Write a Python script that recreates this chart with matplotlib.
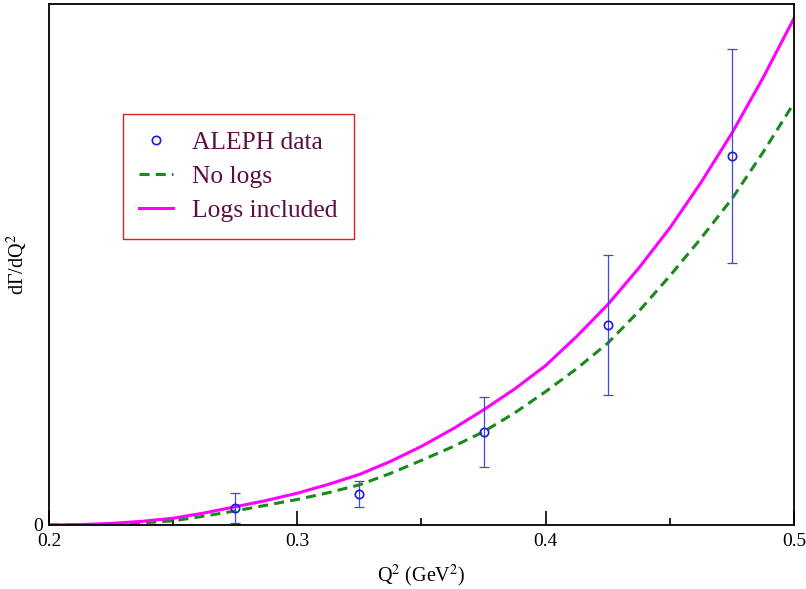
import numpy as np
import matplotlib.pyplot as plt

# ALEPH data points (arbitrary units)
q2_data = [0.275, 0.325, 0.375, 0.425, 0.475]
rate_data = [0.032, 0.0595, 0.178, 0.384, 0.708]
rate_err = [0.0285, 0.025, 0.0676, 0.135, 0.205]

# theory curves
q2_curve = [0.2, 0.2125, 0.225, 0.2375, 0.25, 0.2625, 0.275, 0.2875, 0.3, 0.3125,
            0.325, 0.3375, 0.35, 0.3625, 0.375, 0.3875, 0.4, 0.4125, 0.425, 0.4375,
            0.45, 0.4625, 0.475, 0.4875, 0.5]
no_logs = [0.0, 0.0003, 0.001, 0.004, 0.008, 0.017, 0.027, 0.038, 0.049, 0.062,
           0.077, 0.099, 0.124, 0.150, 0.179, 0.215, 0.256, 0.300, 0.349, 0.410,
           0.478, 0.550, 0.626, 0.715, 0.81]
logs_incl = [0.0, 0.0008, 0.003, 0.007, 0.013, 0.023, 0.035, 0.047, 0.061, 0.078,
             0.097, 0.122, 0.151, 0.184, 0.221, 0.261, 0.306, 0.362, 0.423, 0.493,
             0.570, 0.657, 0.752, 0.858, 0.9725]

plt.rcParams['font.family'] = ['Liberation Serif', 'DejaVu Serif']
plt.rcParams['mathtext.fontset'] = 'stix'

fig = plt.figure(figsize=(8.06, 5.89), dpi=100)
ax = fig.add_axes([0.0608, 0.1087, 0.9242, 0.8843])

ax.plot(q2_curve, no_logs, color='#1a8a1a', lw=2.2, ls=(0, (3.3, 2.0)), label='No logs')
ax.plot(q2_curve, logs_incl, color='#ff00ff', lw=2.2, label='Logs included')
ax.errorbar(q2_data, rate_data, yerr=rate_err, fmt='none', ecolor='#4545dd',
            elinewidth=0.9, capsize=3.5, capthick=0.9)
pts, = ax.plot(q2_data, rate_data, 'o', mfc='none', mec='#1a1ae6', mew=1.2, ms=6,
               label='ALEPH data')

ax.set_xlim(0.2, 0.5)
ax.set_ylim(0, 1.0)
ax.set_xticks([0.2, 0.3, 0.4, 0.5])
ax.set_xticklabels(['0.2', '0.3', '0.4', '0.5'])
ax.set_xticks([0.25, 0.35, 0.45], minor=True)
ax.tick_params(axis='x', which='major', direction='in', length=10, width=1.2,
               labelsize=14, pad=6)
ax.tick_params(axis='x', which='minor', direction='in', length=5, width=1.2)
ax.set_yticks([0])
ax.tick_params(axis='y', length=0, labelsize=14, pad=4)
for s in ax.spines.values():
    s.set_linewidth(1.3)

ax.set_xlabel('Q$^2$ (GeV$^2$)', fontsize=14.5, labelpad=9)
ax.set_ylabel('d\u0393/dQ$^2$', fontsize=14.5)
ax.yaxis.set_label_coords(-0.026, 0.5)

h, l = ax.get_legend_handles_labels()
order = [l.index('ALEPH data'), l.index('No logs'), l.index('Logs included')]
leg = ax.legend([h[i] for i in order], [l[i] for i in order], loc='upper left',
                bbox_to_anchor=(0.099, 0.789), borderaxespad=0, fancybox=False,
                edgecolor='#e02020', framealpha=1, fontsize=18.4, handlelength=1.3,
                borderpad=0.65, labelspacing=0.45, handletextpad=0.75)
leg.get_frame().set_linewidth(1.0)
for t in leg.get_texts():
    t.set_color('#5a0f45')

fig.savefig('out.png', dpi=100)
